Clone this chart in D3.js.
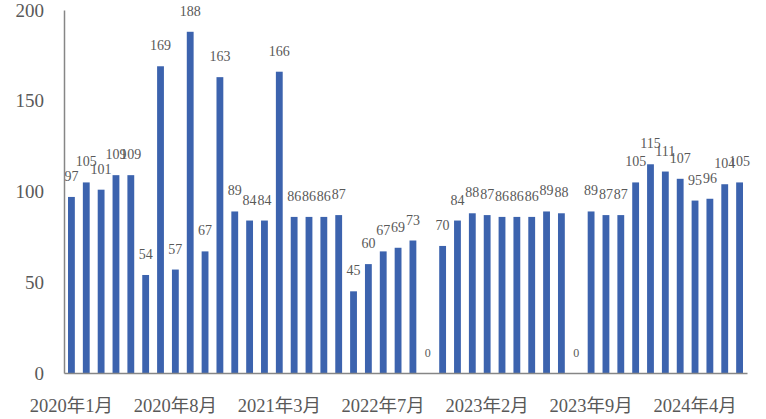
<!DOCTYPE html>
<html>
<head>
<meta charset="utf-8">
<script src="https://cdn.jsdelivr.net/npm/d3@7"></script>
<style>
  body { margin: 0; background: #fff; }
  text { font-family: "Liberation Serif", "Noto Sans CJK SC", serif; fill: #595959; }
</style>
</head>
<body>
<div id="chart"></div>
<script>
// monthly counts, tick label on every 7th bar
var values = [97, 105, 101, 109, 109, 54, 169, 57, 188, 67, 163, 89, 84, 84, 166,
    86, 86, 86, 87, 45, 60, 67, 69, 73, 0, 70, 84, 88, 87, 86, 86, 86, 89, 88, 0,
    89, 87, 87, 105, 115, 111, 107, 95, 96, 104, 105];
var tickLabels = ["2020年1月", "2020年8月", "2021年3月", "2022年7月", "2023年2月", "2023年9月", "2024年4月"];
var yTicks = [0, 50, 100, 150, 200];

var width = 766, height = 419;
var margin = {left: 64, right: 19, top: 10, bottom: 46};

var svg = d3.select("#chart").append("svg")
    .attr("width", width)
    .attr("height", height);

var idx = d3.range(values.length);

var x = d3.scaleBand()
    .domain(idx)
    .range([margin.left, width - margin.right])
    .paddingInner(0.54)
    .paddingOuter(0.27);

var y = d3.scaleLinear()
    .domain([0, 200])
    .range([height - margin.bottom, margin.top]);

// bars
svg.selectAll(".bar")
    .data(values)
    .enter().append("rect")
    .attr("class", "bar")
    .attr("x", function (d, i) { return x(i); })
    .attr("y", function (d) { return y(d); })
    .attr("width", x.bandwidth())
    .attr("height", function (d) { return y(0) - y(d); })
    .attr("fill", "#3C63AE");

// value labels
svg.selectAll(".lbl")
    .data(values)
    .enter().append("text")
    .attr("class", "lbl")
    .attr("x", function (d, i) { return x(i) + x.bandwidth() / 2; })
    .attr("y", function (d) { return y(d) - 16; })
    .attr("text-anchor", "middle")
    .style("font-size", function (d) { return d === 0 ? "12px" : "14px"; })
    .text(function (d) { return d; });

// y axis
var yAxis = svg.append("g")
    .attr("transform", "translate(" + margin.left + ",0)")
    .call(d3.axisLeft(y).tickValues(yTicks).tickSize(0).tickPadding(20));
yAxis.select(".domain").attr("stroke", "#868686").attr("stroke-width", 1.5);
yAxis.selectAll("text")
    .style("font-size", "19px")
    .attr("fill", "#666");

// x axis
var xAxis = svg.append("g")
    .attr("transform", "translate(0," + y(0) + ")")
    .call(d3.axisBottom(x)
        .tickValues(idx.filter(function (i) { return i % 7 === 0; }))
        .tickFormat(function (i) { return tickLabels[i / 7]; })
        .tickSize(0)
        .tickPadding(26));
xAxis.select(".domain").attr("stroke", "#868686").attr("stroke-width", 1.5);
xAxis.selectAll("text")
    .style("font-size", "18.5px")
    .attr("fill", "#666");
</script>
</body>
</html>
